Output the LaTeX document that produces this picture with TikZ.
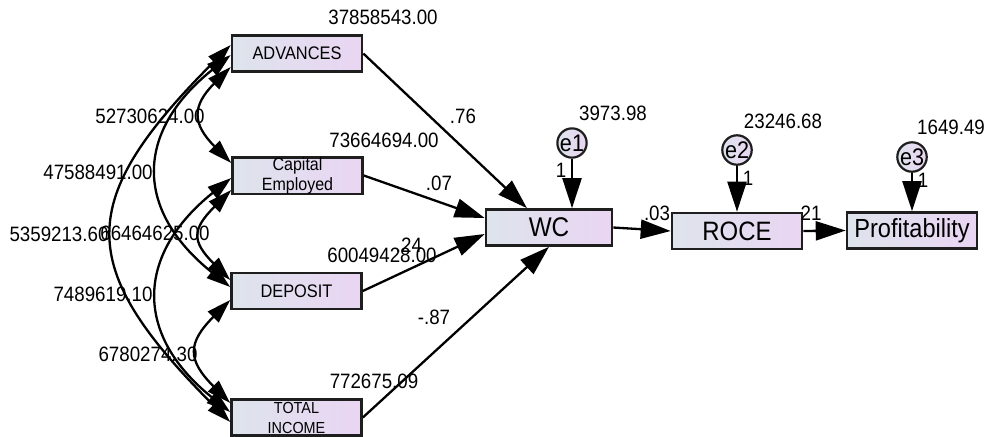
\documentclass[tikz,border=0pt]{standalone}
\usepackage{fontspec}
\setmainfont[FakeStretch=0.9]{Liberation Sans}
\usetikzlibrary{calc, arrows.meta, positioning}
\definecolor{boxleft}{RGB}{221,228,236}
\definecolor{boxright}{RGB}{234,213,243}
\definecolor{edgegray}{RGB}{30,30,30}

\begin{document}
\begin{tikzpicture}[x=0.5pt, y=-0.5pt,
  obs/.style={draw=edgegray, line width=1.3pt, left color=boxleft, right color=boxright,
    minimum width=65pt, minimum height=18pt, inner sep=0pt, align=center},
  err/.style={circle, draw=edgegray, line width=1.1pt, left color=boxleft, right color=boxright,
    minimum size=12.5pt, inner sep=0pt, font=\fontsize{12}{12}\selectfont},
  reg/.style={-{Triangle[length=15pt, width=9.5pt]}, line width=1.15pt},
  cov/.style={{Triangle[length=12pt, width=7.5pt]}-{Triangle[length=12pt, width=7.5pt]}, line width=1.15pt},
  est/.style={font=\fontsize{10.4}{12}\selectfont, inner sep=0pt}]

\useasboundingbox (0,0) rectangle (988,436);

% Exogenous variables
\node[obs, font=\fontsize{9.1}{10}\selectfont] (adv) at (297,53.5) {ADVANCES};
\node[obs, font=\fontsize{8.9}{10}\selectfont] (cap) at (297.5,175.5) {Capital\\Employed};
\node[obs, font=\fontsize{9.1}{10}\selectfont] (dep) at (296.5,291) {DEPOSIT};
\node[obs, font=\fontsize{8}{10}\selectfont] (tot) at (296.5,417.5) {TOTAL\\INCOME};

% Endogenous variables
\node[obs, minimum width=63pt, font=\fontsize{13.5}{13.5}\selectfont] (wc) at (549,227.5) {WC};
\node[obs, font=\fontsize{13.3}{13.3}\selectfont] (roce) at (737,231) {ROCE};
\node[obs, font=\fontsize{13.1}{13.1}\selectfont] (prof) at (912,230.5) {Profitability};

% Error terms
\node[err] (e1) at (572,143) {e1};
\node[err] (e2) at (737,150) {e2};
\node[err] (e3) at (912,157) {e3};

% Covariances between exogenous variables
\draw[cov] ($(adv.west)+(0,13.5)$) .. controls +(-39,39) and +(-39,-39) .. ($(cap.west)+(0,-12.5)$);
\draw[cov] ($(cap.west)+(0,14.5)$) .. controls +(-39,39) and +(-39,-39) .. ($(dep.west)+(0,-11)$);
\draw[cov] ($(dep.west)+(0,9)$) .. controls +(-43,43) and +(-43,-43) .. ($(tot.west)+(0,-14.5)$);
\draw[cov] ($(adv.west)+(0,1.5)$) .. controls +(-96,77) and +(-96,-77) .. ($(dep.west)+(0,-4)$);
\draw[cov] ($(cap.west)+(0,2.5)$) .. controls +(-96,77) and +(-96,-77) .. ($(tot.west)+(0,-5.5)$);
\draw[cov] ($(adv.west)+(0,-8.5)$) .. controls +(-156,156) and +(-156,-156) .. ($(tot.west)+(0,4.5)$);

\node[est] (c12) at (150,116) {52730624.00};
\node[est] (c13) at (98,172) {47588491.00};
\node[est] (c14) at (59,234) {5359213.60};
\node[est] (c23) at (155,233) {66464625.00};
\node[est] (c24) at (103,294) {7489619.10};
\node[est] (c34) at (148,354) {6780274.30};

% Variances
\node[est] (v1) at (383,17) {37858543.00};
\node[est] (v2) at (384,140) {73664694.00};
\node[est] (v3) at (382,255) {60049428.00};
\node[est] (v4) at (374,381) {772675.09};
\node[est] (v5) at (613,113) {3973.98};
\node[est] (v6) at (783,121) {23246.68};
\node[est] (v7) at (951,127) {1649.49};

% Regression paths
\draw[reg] (adv.east) -- ([xshift=-11pt]wc.north);
\draw[reg] (cap.east) -- ([yshift=4.75pt]wc.west);
\draw[reg] (dep.east) -- ([yshift=-3.25pt]wc.west);
\draw[reg] (tot.east) -- (wc.south);
\draw[reg] (wc.east) -- (roce.west);
\draw[reg] (roce.east) -- (prof.west);
\draw[reg] (e1) -- (e1 |- wc.north);
\draw[reg] (e2) -- (roce);
\draw[reg] (e3) -- (prof);

\node[est] (w1) at (463,116) {.76};
\node[est] (w2) at (439,183) {.07};
\node[est] (w3) at (409,245) {.24};
\node[est] (w4) at (434,317) {-.87};
\node[est] (w5) at (657,213) {.03};
\node[est] (w6) at (811,213) {21};
\node[est] (f1) at (561,170) {1};
\node[est] (f2) at (748,178) {1};
\node[est] (f3) at (923,180) {1};

\end{tikzpicture}
\end{document}
